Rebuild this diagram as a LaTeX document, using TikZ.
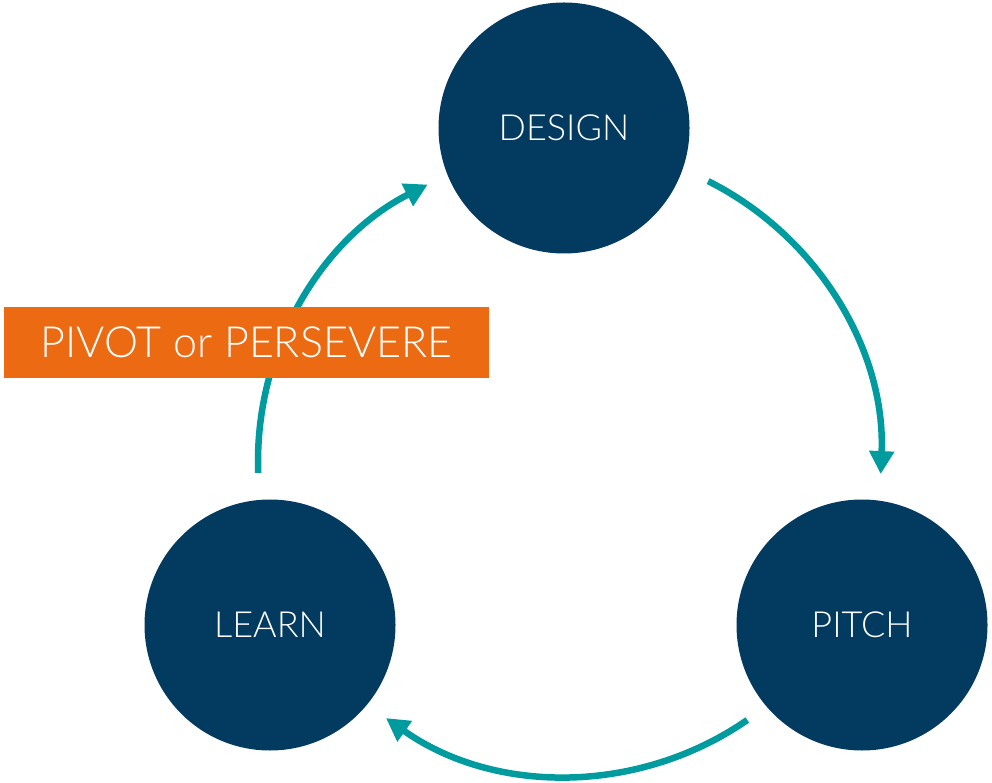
\documentclass[tikz,border=0pt]{standalone}
\usepackage{fontspec}
\setmainfont{Lato}[UprightFont=* Light]
\usepackage{tikz}
\usetikzlibrary{positioning, arrows.meta}

\definecolor{navy}{HTML}{033A5F}
\definecolor{teal}{HTML}{009B9E}
\definecolor{pivotorange}{HTML}{EC6A11}

\begin{document}
\begin{tikzpicture}[x=1pt, y=1pt]

% --- Styles ---
\tikzset{
    stagecircle/.style={circle, fill=navy, text=white, minimum size=251pt, inner sep=0pt, font=\fontsize{36}{36}\selectfont},
    cyclearrow/.style={teal, line width=6.5pt, -{Triangle[length=23pt, width=24pt]}},
    pivotbox/.style={rectangle, fill=pivotorange, text=white, minimum width=485pt, minimum height=71pt, inner sep=0pt, font=\fontsize{43}{43}\selectfont},
}

\useasboundingbox (0,0) rectangle (992,782);

% --- The three stages ---
\node[stagecircle] (design) at (564,654) {DESIGN};
\node[stagecircle] (pitch) at (862,157) {PITCH};
\node[stagecircle] (learn) at (270,157) {LEARN};

% --- Arcs round the middle of the cycle ---
\coordinate (hub) at (568,321);
\draw[cyclearrow] ([shift={(63.4:313)}]hub) arc[start angle=63.4, end angle=-2.4, radius=313];
\draw[cyclearrow] ([shift={(-55.3:315)}]hub) arc[start angle=-55.3, end angle=-125.3, radius=315];
\draw[cyclearrow] ([shift={(182.2:310)}]hub) arc[start angle=182.2, end angle=116.9, radius=310];

% --- Label over the left arc ---
\node[pivotbox] (pivot) at (246.5,439.5) {PIVOT or PERSEVERE};

\end{tikzpicture}
\end{document}
